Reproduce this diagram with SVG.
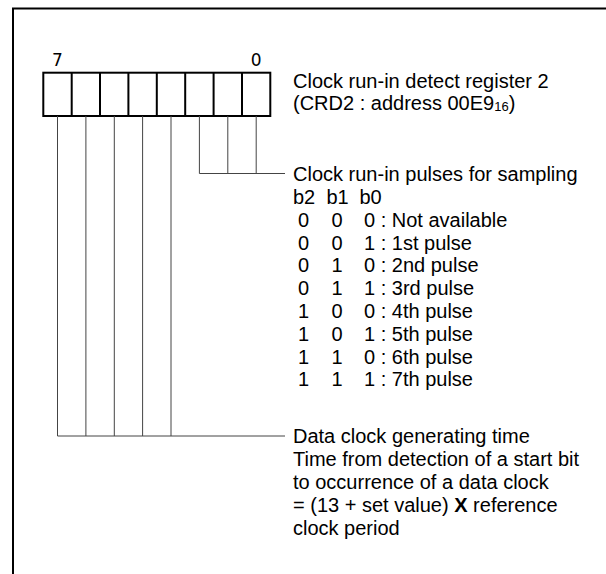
<svg xmlns="http://www.w3.org/2000/svg" width="606" height="574" viewBox="0 0 606 574">
<style>
.t{font-family:"Liberation Sans",Arial,sans-serif;font-size:20px;fill:#000}
.n{font-family:"DejaVu Sans",sans-serif;font-size:17px;fill:#000;text-anchor:middle}
.c{text-anchor:middle}
.cell{fill:#fff;stroke:#000;stroke-width:2}
.ln{fill:none;stroke:#444;stroke-width:1}
</style>
<rect width="606" height="574" fill="#fff"/>
<path d="M13,574 V8.5 H606" fill="none" stroke="#000" stroke-width="2"/>
<g id="register">
<rect class="cell" x="43.3" y="72.7" width="227" height="43.3"/>
<path d="M71.7,72.7V116 M100,72.7V116 M128.4,72.7V116 M156.8,72.7V116 M185.2,72.7V116 M213.6,72.7V116 M242,72.7V116" stroke="#000" stroke-width="2"/>
<text class="n" x="57.5" y="65.7">7</text>
<text class="n" x="256.2" y="65.7">0</text>
</g>
<g id="connectors">
<path class="ln" d="M57.5,116V436 M85.9,116V436 M114.3,116V436 M142.6,116V436 M171,116V436 M57.5,436H285"/>
<path class="ln" d="M199.4,116V173.5 M227.8,116V173.5 M256.2,116V173.5 M199.4,173.5H285"/>
</g>
<g id="title">
<text class="t" x="293" y="88">Clock run-in detect register 2</text>
<text class="t" x="293" y="110">(CRD2 : address 00E9<tspan font-size="13" dy="1">16</tspan><tspan dy="-1">)</tspan></text>
</g>
<g id="pulses">
<text class="t" x="293" y="180.5">Clock run-in pulses for sampling</text>
<text class="t" y="203.5"><tspan x="293">b2</tspan><tspan x="326.5">b1</tspan><tspan x="359.5">b0</tspan></text>
<text class="t c" x="303.5" y="226.5">0</text><text class="t c" x="337" y="226.5">0</text><text class="t" x="364" y="226.5">0 : Not available</text>
<text class="t c" x="303.5" y="249.5">0</text><text class="t c" x="337" y="249.5">0</text><text class="t" x="364" y="249.5">1 : 1st pulse</text>
<text class="t c" x="303.5" y="272.3">0</text><text class="t c" x="337" y="272.3">1</text><text class="t" x="364" y="272.3">0 : 2nd pulse</text>
<text class="t c" x="303.5" y="295.2">0</text><text class="t c" x="337" y="295.2">1</text><text class="t" x="364" y="295.2">1 : 3rd pulse</text>
<text class="t c" x="303.5" y="318">1</text><text class="t c" x="337" y="318">0</text><text class="t" x="364" y="318">0 : 4th pulse</text>
<text class="t c" x="303.5" y="340.8">1</text><text class="t c" x="337" y="340.8">0</text><text class="t" x="364" y="340.8">1 : 5th pulse</text>
<text class="t c" x="303.5" y="363.6">1</text><text class="t c" x="337" y="363.6">1</text><text class="t" x="364" y="363.6">0 : 6th pulse</text>
<text class="t c" x="303.5" y="386.4">1</text><text class="t c" x="337" y="386.4">1</text><text class="t" x="364" y="386.4">1 : 7th pulse</text>
</g>
<g id="dataclock">
<text class="t" x="293" y="443">Data clock generating time</text>
<text class="t" x="293" y="466">Time from detection of a start bit</text>
<text class="t" x="293" y="489">to occurrence of a data clock</text>
<text class="t" x="293" y="512">= (13 + set value) <tspan font-weight="bold">X</tspan> reference</text>
<text class="t" x="293" y="535">clock period</text>
</g>
</svg>
